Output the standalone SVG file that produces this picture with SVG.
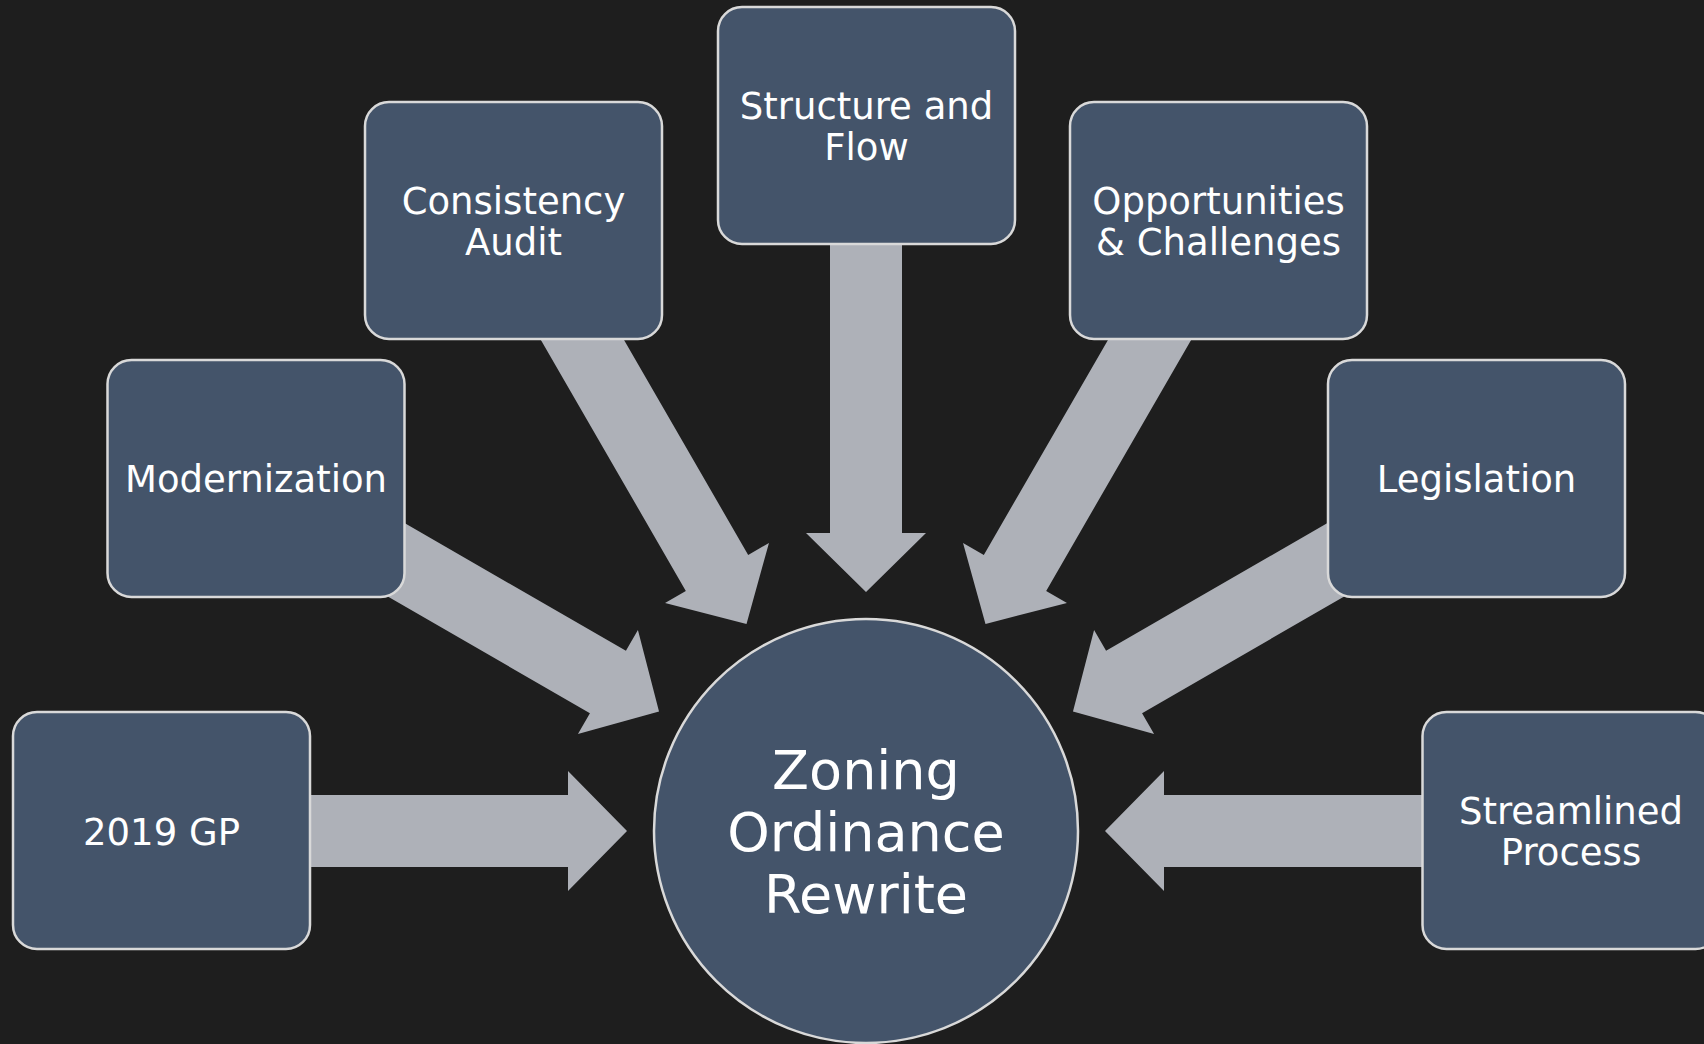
<svg xmlns="http://www.w3.org/2000/svg" width="1704" height="1044" viewBox="0 0 1704 1044">
<defs>
<style>
.bg{fill:#1e1e1e}
.box{fill:#44546a;stroke:#d9d9d9;stroke-width:2.5}
.arrow{fill:#aeb1b8}
.t{fill:#ffffff;font-family:"DejaVu Sans","Liberation Sans",sans-serif;font-size:37px;text-anchor:middle}
.tc{fill:#ffffff;font-family:"DejaVu Sans","Liberation Sans",sans-serif;font-size:54px;text-anchor:middle}
</style>
<polygon id="arr" points="239,0 298,-60 298,-36 600,-36 600,36 298,36 298,60"/>
</defs>
<rect class="bg" x="0" y="0" width="1704" height="1044"/>
<g id="connectors" class="arrow">
<use href="#arr" transform="translate(866 831) rotate(180)"/>
<use href="#arr" transform="translate(866 831) rotate(-150)"/>
<use href="#arr" transform="translate(866 831) rotate(-120)"/>
<use href="#arr" transform="translate(866 831) rotate(-90)"/>
<use href="#arr" transform="translate(866 831) rotate(-60)"/>
<use href="#arr" transform="translate(866 831) rotate(-30)"/>
<use href="#arr" transform="translate(866 831)"/>
</g>
<g id="center">
<circle class="box" cx="866" cy="831" r="212"/>
<text class="tc" x="866" y="789">Zoning</text>
<text class="tc" x="866" y="851">Ordinance</text>
<text class="tc" x="866" y="913">Rewrite</text>
</g>
<g id="n2019gp">
<rect class="box" x="13" y="712" width="297" height="237" rx="24"/>
<text class="t" x="161.5" y="845">2019 GP</text>
</g>
<g id="modernization">
<rect class="box" x="107.5" y="360" width="297" height="237" rx="24"/>
<text class="t" x="256" y="492">Modernization</text>
</g>
<g id="consistency">
<rect class="box" x="365" y="102" width="297" height="237" rx="24"/>
<text class="t" x="513.5" y="213.5">Consistency</text>
<text class="t" x="513.5" y="254.5">Audit</text>
</g>
<g id="structure">
<rect class="box" x="718" y="7" width="297" height="237" rx="24"/>
<text class="t" x="866.5" y="118.5">Structure and</text>
<text class="t" x="866.5" y="159.5">Flow</text>
</g>
<g id="opportunities">
<rect class="box" x="1070" y="102" width="297" height="237" rx="24"/>
<text class="t" x="1218.5" y="213.5">Opportunities</text>
<text class="t" x="1218.5" y="254.5">&amp; Challenges</text>
</g>
<g id="legislation">
<rect class="box" x="1328" y="360" width="297" height="237" rx="24"/>
<text class="t" x="1476.5" y="492">Legislation</text>
</g>
<g id="streamlined">
<rect class="box" x="1422.5" y="712" width="297" height="237" rx="24"/>
<text class="t" x="1571" y="824">Streamlined</text>
<text class="t" x="1571" y="865">Process</text>
</g>
</svg>
